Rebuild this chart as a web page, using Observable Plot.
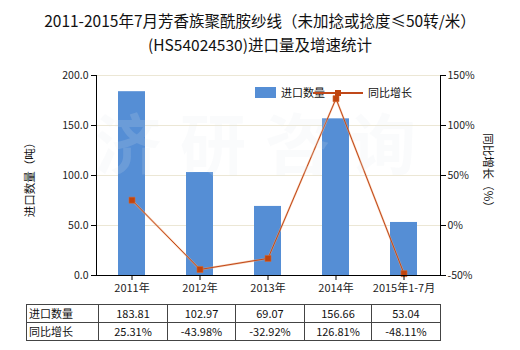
<!DOCTYPE html>
<html>
<head>
<meta charset="utf-8">
<script src="https://cdn.jsdelivr.net/npm/d3@7"></script>
<script src="https://cdn.jsdelivr.net/npm/@observablehq/plot@0.6"></script>
<style>
  body { margin: 0; background: #fff; }
  #wrap { position: relative; width: 520px; height: 350px; font-family: "Noto Sans CJK SC", "Noto Sans", sans-serif; color: #111; }
  #wrap svg { position: absolute; left: 0; top: 0; }
  .ov { position: absolute; white-space: nowrap; }
  #title { left: 0; width: 520px; top: 8px; text-align: center; font-size: 15.5px; line-height: 24px; }
  table { position: absolute; left: 26px; top: 304px; border-collapse: collapse; font-size: 11px; table-layout: fixed; }
  td { border: 1px solid #444; height: 17px; padding: 0; text-align: center; line-height: 17px; }
  td.h { text-align: left; padding-left: 2px; }
  .rot { font-size: 11.5px; }
</style>
</head>
<body>
<div id="wrap"></div>
<script>
const title1 = "2011-2015年7月芳香族聚酰胺纱线（未加捻或捻度≤50转/米）";
const title2 = "(HS54024530)进口量及增速统计";
const categories = ["2011年", "2012年", "2013年", "2014年", "2015年1-7月"];
const volume = [183.81, 102.97, 69.07, 156.66, 53.04];
const growth = [25.31, -43.98, -32.92, 126.81, -48.11];
const leftTicks = [0, 50, 100, 150, 200];
const rightTicks = [-50, 0, 50, 100, 150];
const seriesNames = ["进口数量", "同比增长"];
const leftLabel = "进口数量（吨）";
const rightLabel = "同比增长（%）";

const barColor = "#558ed5";
const lineColor = "#c0481a";

// growth axis -50..150 mapped onto the volume axis 0..200
const toLeft = g => (g + 50);
const data = categories.map((c, i) => ({cat: c, vol: volume[i], g: growth[i]}));

const chart = Plot.plot({
  width: 520, height: 350,
  marginLeft: 96, marginRight: 80, marginTop: 75, marginBottom: 75,
  style: {fontFamily: "'Noto Sans CJK SC', sans-serif", fontSize: "10.5px", color: "#222", background: "transparent"},
  x: {domain: categories, paddingInner: 0.6, paddingOuter: 0.3, axis: null},
  y: {domain: [0, 200], axis: null},
  marks: [
    Plot.gridY([50, 100, 150, 200], {stroke: "#ece7d5", strokeOpacity: 1}),
    Plot.barY(data, {x: "cat", y: "vol", fill: barColor}),
    Plot.line(data, {x: "cat", y: d => toLeft(d.g), stroke: "#f0a878", strokeWidth: 2, strokeOpacity: 0.6}),
    Plot.line(data, {x: "cat", y: d => toLeft(d.g), stroke: lineColor, strokeWidth: 1}),
    Plot.dot(data, {x: "cat", y: d => toLeft(d.g), symbol: "square", r: 3.4, fill: "#c0440e", stroke: "#d86a30", strokeWidth: 0.6}),
    Plot.axisY({anchor: "left", ticks: leftTicks, tickFormat: d3.format(".1f"), tickSize: 5, tickPadding: 3, label: null, stroke: "#000"}),
    Plot.axisY({anchor: "right", ticks: rightTicks.map(toLeft), tickFormat: d => (d - 50) + "%", tickSize: 5, tickPadding: 2, label: null, stroke: "#000"}),
    Plot.axisX({anchor: "bottom", tickSize: 5, tickPadding: 4, label: null, stroke: "#000", fontSize: 11}),
    Plot.ruleY([0], {stroke: "#000"}),
    Plot.frame({anchor: "left", stroke: "#000"}),
    Plot.frame({anchor: "right", stroke: "#000"})
  ]
});

const wrap = document.getElementById("wrap");
wrap.appendChild(chart);

function ov(html, style, cls) {
  const d = document.createElement("div");
  d.className = "ov" + (cls ? " " + cls : "");
  d.innerHTML = html;
  Object.assign(d.style, style);
  wrap.appendChild(d);
  return d;
}

// watermark
ov("济 研 咨 询", {left: "95px", top: "92px", fontSize: "66px", fontWeight: "bold", color: "rgba(225,228,236,0.16)", letterSpacing: "2px", pointerEvents: "none"});

// title
const t = ov(title1 + "<br>" + title2, {}, "");
t.id = "title";

// axis titles
ov(leftLabel, {left: "29px", top: "177px", transform: "translate(-50%,-50%) rotate(-90deg)"}, "rot");
ov(rightLabel, {left: "489px", top: "173px", transform: "translate(-50%,-50%) rotate(90deg)"}, "rot");

// legend
ov("", {left: "255px", top: "87px", width: "21px", height: "11px", background: barColor});
ov(seriesNames[0], {left: "281px", top: "84px", fontSize: "11px", lineHeight: "17px"});
ov("", {left: "313px", top: "92px", width: "50px", height: "2px", background: lineColor});
ov("", {left: "335px", top: "90px", width: "6px", height: "6px", background: "#c0440e"});
ov(seriesNames[1], {left: "368px", top: "84px", fontSize: "11px", lineHeight: "17px"});

// data table
const widths = [70, 69, 68, 69, 67, 69];
const tbl = document.createElement("table");
const rows = [
  [seriesNames[0], ...volume.map(v => v.toFixed(2))],
  [seriesNames[1], ...growth.map(v => v.toFixed(2) + "%")]
];
rows.forEach(r => {
  const tr = document.createElement("tr");
  r.forEach((c, i) => {
    const td = document.createElement("td");
    td.textContent = c;
    td.style.width = (widths[i] - 1) + "px";
    if (i === 0) td.className = "h";
    tr.appendChild(td);
  });
  tbl.appendChild(tr);
});
wrap.appendChild(tbl);
</script>
</body>
</html>
